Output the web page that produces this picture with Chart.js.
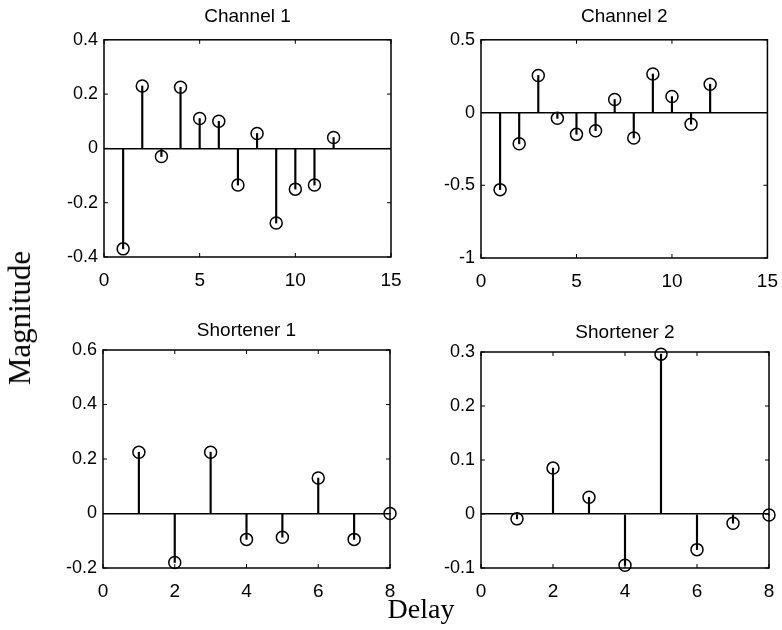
<!DOCTYPE html>
<html>
<head>
<meta charset="utf-8">
<title>Stem plots</title>
<script src="https://cdn.jsdelivr.net/npm/chart.js@4.4.1/dist/chart.umd.min.js"></script>
<style>
  body { margin: 0; background: #fff; }
  #fig { position: relative; width: 782px; height: 630px; overflow: hidden; background: #fff; }
  .panel { position: absolute; }
  .lbl {
    position: absolute;
    font-family: "Liberation Serif", "Times New Roman", serif;
    color: #000;
    white-space: nowrap;
    transform: translate(-50%, -50%);
  }
  #ylab { left: 20px; top: 318px; font-size: 31px; transform: translate(-50%, -50%) rotate(-90deg); }
  #xlab { left: 421px; top: 609px; font-size: 28px; }
</style>
</head>
<body>
<div id="fig">
  <div class="panel" style="left:0px;top:0px;width:406px;height:300px"><canvas id="ch1"></canvas></div>
  <div class="panel" style="left:390px;top:0px;width:392px;height:300px"><canvas id="ch2"></canvas></div>
  <div class="panel" style="left:0px;top:305px;width:406px;height:300px"><canvas id="sh1"></canvas></div>
  <div class="panel" style="left:390px;top:305px;width:392px;height:300px"><canvas id="sh2"></canvas></div>
  <div class="lbl" id="ylab">Magnitude</div>
  <div class="lbl" id="xlab">Delay</div>
</div>
<script>
// delays (x) for each filter
const delays12 = [1, 2, 3, 4, 5, 6, 7, 8, 9, 10, 11, 12];
const delays8 = [1, 2, 3, 4, 5, 6, 7, 8];

// impulse response magnitudes
const channel1 = [-0.37, 0.23, -0.03, 0.225, 0.11, 0.10, -0.135, 0.055, -0.275, -0.15, -0.135, 0.04];
const channel2 = [-0.53, -0.215, 0.255, -0.04, -0.15, -0.125, 0.09, -0.175, 0.265, 0.11, -0.08, 0.195];
const shortener1 = [0.225, -0.18, 0.225, -0.095, -0.087, 0.13, -0.095, 0.0];
const shortener2 = [-0.009, 0.085, 0.031, -0.095, 0.296, -0.066, -0.017, -0.002];

// tick values
const ch1XTicks = [0, 5, 10, 15];
const ch1YTicks = [-0.4, -0.2, 0, 0.2, 0.4];
const ch2XTicks = [0, 5, 10, 15];
const ch2YTicks = [-1, -0.5, 0, 0.5];
const sh1XTicks = [0, 2, 4, 6, 8];
const sh1YTicks = [-0.2, 0, 0.2, 0.4, 0.6];
const sh2XTicks = [0, 2, 4, 6, 8];
const sh2YTicks = [-0.1, 0, 0.1, 0.2, 0.3];

const sans = '"Liberation Sans", Arial, Helvetica, sans-serif';

// box around the plot area with small inward tick marks (matlab look)
const axesBox = {
  id: 'axesBox',
  afterDatasetsDraw(chart) {
    const { ctx, chartArea: a } = chart;
    const x = chart.scales.x, y = chart.scales.y;
    const tl = 4;
    ctx.save();
    ctx.strokeStyle = '#000';
    ctx.lineWidth = 1;
    ctx.beginPath();
    x.ticks.forEach(t => {
      const px = x.getPixelForValue(t.value);
      ctx.moveTo(px, a.bottom); ctx.lineTo(px, a.bottom - tl);
      ctx.moveTo(px, a.top); ctx.lineTo(px, a.top + tl);
    });
    y.ticks.forEach(t => {
      const py = y.getPixelForValue(t.value);
      ctx.moveTo(a.left, py); ctx.lineTo(a.left + tl, py);
      ctx.moveTo(a.right, py); ctx.lineTo(a.right - tl, py);
    });
    ctx.stroke();
    ctx.lineWidth = 1.5;
    ctx.strokeRect(a.left, a.top, a.right - a.left, a.bottom - a.top);
    ctx.restore();
  }
};

function stemChart(id, title, xs, ys, xTicks, yTicks, lay) {
  const pts = xs.map((d, i) => ({ x: d, y: ys[i] }));
  return new Chart(document.getElementById(id), {
    type: 'scatter',
    data: {
      datasets: [
        {
          type: 'scatter',
          data: pts,
          pointStyle: 'circle',
          pointRadius: 6,
          pointBorderWidth: 1.5,
          borderColor: '#000',
          backgroundColor: 'rgba(0,0,0,0)',
          clip: false,
          order: 0
        },
        {
          type: 'bar',
          data: pts,
          barThickness: 1.5,
          backgroundColor: '#000',
          borderWidth: 0,
          clip: false,
          order: 1
        }
      ]
    },
    options: {
      responsive: true,
      maintainAspectRatio: false,
      animation: false,
      events: [],
      layout: { padding: { left: 0, right: lay.right, top: 0, bottom: 0 } },
      plugins: {
        legend: { display: false },
        tooltip: { enabled: false },
        title: {
          display: true,
          fullSize: false,   // centre over the plot box, not the canvas
          text: title,
          color: '#000',
          font: { family: sans, size: 19, weight: 'normal', lineHeight: 1.2 },
          padding: { top: lay.tTop, bottom: lay.tBottom }
        }
      },
      scales: {
        x: {
          type: 'linear',
          offset: false,
          min: xTicks[0],
          max: xTicks[xTicks.length - 1],
          grid: { display: false, offset: false },
          border: { display: false },
          ticks: { color: '#000', font: { family: sans, size: 19 }, padding: 4, maxRotation: 0 },
          afterBuildTicks: s => { s.ticks = xTicks.map(v => ({ value: v })); },
          afterFit: s => { s.height = lay.xh; }
        },
        y: {
          type: 'linear',
          min: yTicks[0],
          max: yTicks[yTicks.length - 1],
          grid: {
            color: c => (c.tick && c.tick.value === 0 ? '#000' : 'rgba(0,0,0,0)'),
            lineWidth: 1.5,
            drawTicks: false
          },
          border: { display: false },
          ticks: { color: '#000', font: { family: sans, size: 18 }, padding: 6, callback: v => String(v) },
          afterBuildTicks: s => { s.ticks = yTicks.map(v => ({ value: v })); },
          afterFit: s => { s.width = lay.yw; }
        }
      }
    },
    plugins: [axesBox]
  });
}

stemChart('ch1', 'Channel 1', delays12, channel1, ch1XTicks, ch1YTicks,
  { yw: 104, xh: 43, right: 15, tTop: 5, tBottom: 12 });
stemChart('ch2', 'Channel 2', delays12, channel2, ch2XTicks, ch2YTicks,
  { yw: 91, xh: 42, right: 12, tTop: 5, tBottom: 12 });
stemChart('sh1', 'Shortener 1', delays8, shortener1, sh1XTicks, sh1YTicks,
  { yw: 103, xh: 37, right: 16, tTop: 14.6, tBottom: 7.6 });
stemChart('sh2', 'Shortener 2', delays8, shortener2, sh2XTicks, sh2YTicks,
  { yw: 91, xh: 37, right: 13, tTop: 16.6, tBottom: 7.6 });
</script>
</body>
</html>
